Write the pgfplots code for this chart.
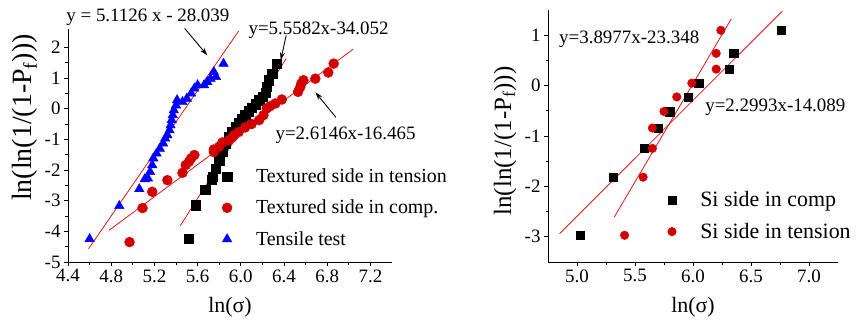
\documentclass[border=0pt]{standalone}
\usepackage{pgfplots}
\pgfplotsset{compat=1.18}
\usepackage{fontspec}
\setmainfont{Liberation Serif}
\usetikzlibrary{arrows.meta}
\definecolor{mred}{RGB}{210,0,0}
\definecolor{lred}{RGB}{228,20,20}
\definecolor{mblue}{RGB}{0,0,255}
\pgfplotsset{
 myaxis/.style={
  scale only axis,
  axis x line=bottom, axis y line=left,
  axis line style={-, line width=0.8bp},
  tick align=outside,
  major tick length=4bp, minor tick length=2.5bp,
  tick style={line width=0.8bp, black},
  minor x tick num=1, minor y tick num=1,
  tick label style={font=\fontsize{19}{22}\selectfont},
  /pgf/number format/assume math mode=true,
  x tick label style={/pgf/number format/fixed, /pgf/number format/fixed zerofill, /pgf/number format/precision=1},
  xlabel style={font=\fontsize{22}{26}\selectfont, yshift=-8bp},
  clip=false,
  legend cell align=left,
 },
 fit/.style={lred, line width=0.8bp, forget plot},
}
\tikzset{
 eqn/.style={font=\fontsize{19}{22}\selectfont, inner sep=0pt},
 arr/.style={-{Stealth[length=8bp,width=5bp]}, line width=0.9bp, black},
}
\begin{document}
\begin{tikzpicture}
\useasboundingbox (0,0) rectangle (857bp,322bp);
% ---------------- left panel ----------------
\begin{axis}[myaxis, at={(68bp,60bp)}, anchor=south west, width=324bp, height=233bp,
  xmin=4.4, xmax=7.4, ymin=-5, ymax=2.6,
  xtick={4.4,4.8,5.2,5.6,6.0,6.4,6.8,7.2}, ytick={-5,-4,-3,-2,-1,0,1,2},
  xlabel={ln(σ)},
  legend style={draw=none, fill=none, at={(axis cs:5.825,-1.89)}, anchor=north west,
    font=\fontsize{20}{24}\selectfont, row sep=12bp, inner sep=0pt,
    /tikz/every odd column/.append style={column sep=22bp}},
]
\addplot[fit] coordinates {(4.59,-4.572) (5.98,2.534)};
\addplot[fit] coordinates {(5.44,-3.815) (6.42,1.632)};
\addplot[fit] coordinates {(4.78,-3.967) (7.04,1.942)};
\addplot[only marks, mark=square*, mark size=4.6bp, black] coordinates {
(5.52,-4.25) (5.58,-3.15) (5.67,-2.64) (5.73,-2.32) (5.74,-2.22) (5.77,-1.95) (5.80,-1.68)
(5.83,-1.41) (5.86,-1.13) (5.89,-0.92) (5.92,-0.76) (5.95,-0.59) (5.98,-0.46) (6.01,-0.32)
(6.04,-0.21) (6.07,-0.08) (6.10,0.04) (6.14,0.15) (6.17,0.28) (6.20,0.38) (6.23,0.51)
(6.24,0.71) (6.26,0.93) (6.29,1.15) (6.33,1.47)};
\addlegendentry{Textured side in tension}
\addplot[only marks, mark=*, mark size=5bp, mred] coordinates {
(4.97,-4.35) (5.09,-3.24) (5.18,-2.71) (5.32,-2.33) (5.46,-2.09) (5.49,-1.84) (5.52,-1.73)
(5.54,-1.62) (5.57,-1.51) (5.75,-1.41) (5.75,-1.33) (5.80,-1.24) (5.83,-1.10) (5.89,-1.03)
(5.92,-0.94) (5.94,-0.86) (5.98,-0.76) (6.04,-0.61) (6.10,-0.50) (6.17,-0.37) (6.21,-0.21)
(6.24,0.01) (6.27,0.08) (6.32,0.17) (6.38,0.30) (6.53,0.55) (6.55,0.70) (6.56,0.82)
(6.58,0.93) (6.69,0.98) (6.81,1.18) (6.86,1.47)};
\addlegendentry{Textured side in comp.}
\addplot[only marks, mark=triangle*, mark size=5.5bp, mblue] coordinates {
(4.60,-4.25) (4.875,-3.17) (5.06,-2.62) (5.11,-2.30) (5.14,-2.27) (5.16,-2.06) (5.18,-1.84)
(5.19,-1.62) (5.22,-1.46) (5.25,-1.30) (5.28,-1.13) (5.30,-0.97) (5.32,-0.86) (5.34,-0.70)
(5.35,-0.54) (5.36,-0.37) (5.37,-0.21) (5.38,-0.05) (5.40,0.11) (5.41,0.28) (5.46,0.22)
(5.50,0.33) (5.54,0.50) (5.57,0.66) (5.60,0.77) (5.66,0.77) (5.69,0.87) (5.72,0.98)
(5.75,1.20) (5.77,1.04) (5.84,1.47)};
\addlegendentry{Tensile test}
\node[rotate=90, font=\fontsize{28}{32}\selectfont] at (axis description cs:-0.133,0.62) {ln(ln(1/(1-P\textsubscript{f})))};
\node[eqn] at (axis cs:5.14,2.98) {y = 5.1126 x - 28.039};
\draw[arr] (axis cs:5.48,2.62) -- (axis cs:5.69,1.74);
\node[eqn] at (axis cs:6.72,2.56) {y=5.5582x-34.052};
\draw[arr] (axis cs:6.42,2.39) -- (axis cs:6.37,1.58);
\node[eqn] at (axis cs:6.97,-0.86) {y=2.6146x-16.465};
\draw[arr] (axis cs:6.88,-0.28) -- (axis cs:6.69,0.54);
\end{axis}
% ---------------- right panel ----------------
\begin{axis}[myaxis, at={(548bp,60bp)}, anchor=south west, width=290bp, height=252bp,
  xmin=4.75, xmax=7.25, ymin=-3.5, ymax=1.5,
  xtick={5.0,5.5,6.0,6.5,7.0}, ytick={-3,-2,-1,0,1},
  xlabel={ln(σ)},
  legend style={draw=none, fill=none, at={(axis cs:5.78,-2.06)}, anchor=north west,
    font=\fontsize{22}{26}\selectfont, row sep=11bp, inner sep=0pt,
    /tikz/every odd column/.append style={column sep=22bp}},
]
\addplot[fit] coordinates {(4.85,-2.937) (6.77,1.477)};
\addplot[fit] coordinates {(5.32,-2.612) (6.33,1.324)};
\addplot[only marks, mark=square*, mark size=4.2bp, black] coordinates {
(5.03,-2.970) (5.31,-1.817) (5.58,-1.246) (5.70,-0.842) (5.80,-0.514) (5.96,-0.225)
(6.05,0.049) (6.31,0.327) (6.35,0.640) (6.76,1.097)};
\addlegendentry{Si side in comp}
\addplot[only marks, mark=*, mark size=4.3bp, mred] coordinates {
(5.41,-2.970) (5.57,-1.817) (5.65,-1.246) (5.65,-0.842) (5.75,-0.514) (5.86,-0.225)
(5.99,0.049) (6.20,0.327) (6.20,0.640) (6.24,1.097)};
\addlegendentry{Si side in tension}
\node[rotate=90, font=\fontsize{25}{29}\selectfont] at (axis description cs:-0.148,0.48) {ln(ln(1/(1-P\textsubscript{f})))};
\node[eqn] at (axis cs:5.45,0.92) {y=3.8977x-23.348};
\node[eqn] at (axis cs:6.71,-0.42) {y=2.2993x-14.089};
\end{axis}
\end{tikzpicture}
\end{document}
